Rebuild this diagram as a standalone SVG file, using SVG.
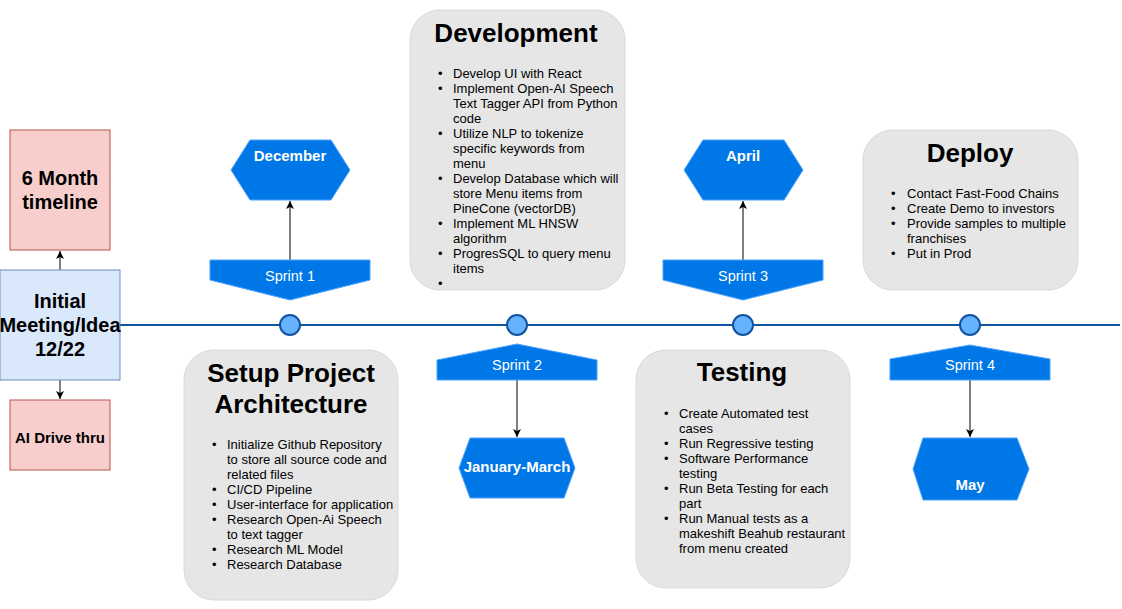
<svg xmlns="http://www.w3.org/2000/svg" width="1122" height="609" viewBox="0 0 1122 609">
<style>
text{font-family:"Liberation Sans",Arial,sans-serif}
.red{fill:#f8cecc;stroke:#b85450;stroke-width:1}
.blue{fill:#dae8fc;stroke:#6c8ebf;stroke-width:1}
.big{font-size:20px;font-weight:bold;fill:#000;text-anchor:middle}
.sprint{fill:#0077e6;stroke:#4da3ff;stroke-width:1}
.st{font-size:14.5px;fill:#fff;text-anchor:middle}
.month{font-size:15px;font-weight:bold;fill:#fff;text-anchor:middle}
.card{fill:#e6e6e6;stroke:#d9d9d9;stroke-width:1}
.title{font-size:26px;font-weight:bold;fill:#000;text-anchor:middle}
.li{font-size:13px;fill:#000}
.dot{fill:#66b2ff;stroke:#10539e;stroke-width:2}
.edge{stroke:#000;stroke-width:1;fill:none}
</style>
<defs>
<marker id="arr" markerWidth="10" markerHeight="10" refX="8" refY="4" orient="auto" markerUnits="userSpaceOnUse">
<path d="M0,0 L8,4 L0,8 L2,4 z" fill="#000"/>
</marker>
</defs>

<g id="connectors">
<line x1="120" y1="325" x2="1120" y2="325" stroke="#10539e" stroke-width="2"/>
<line class="edge" x1="60" y1="270" x2="60" y2="251" marker-end="url(#arr)"/>
<line class="edge" x1="60" y1="380" x2="60" y2="399" marker-end="url(#arr)"/>
<line class="edge" x1="290" y1="260" x2="290" y2="201" marker-end="url(#arr)"/>
<line class="edge" x1="517" y1="380" x2="517" y2="437" marker-end="url(#arr)"/>
<line class="edge" x1="743" y1="260" x2="743" y2="201" marker-end="url(#arr)"/>
<line class="edge" x1="970" y1="380" x2="970" y2="437" marker-end="url(#arr)"/>
</g>

<g id="timeline-6month">
<rect class="red" x="10" y="130" width="100" height="120"/>
<text class="big" x="60" y="185">6 Month</text>
<text class="big" x="60" y="209">timeline</text>
</g>
<g id="initial-meeting">
<rect class="blue" x="0" y="270" width="120" height="110"/>
<text class="big" x="60" y="308">Initial</text>
<text class="big" x="60" y="332">Meeting/Idea</text>
<text class="big" x="60" y="356">12/22</text>
</g>
<g id="ai-drive-thru">
<rect class="red" x="10" y="400" width="100" height="70"/>
<text x="60" y="443" style="font-size:15px;font-weight:bold;text-anchor:middle">AI Drive thru</text>
</g>

<g id="dots">
<circle class="dot" cx="290" cy="325" r="10"/>
<circle class="dot" cx="517" cy="325" r="10"/>
<circle class="dot" cx="743" cy="325" r="10"/>
<circle class="dot" cx="970" cy="325" r="10"/>
</g>

<g id="sprint1">
<path class="sprint" d="M210,260 H370 V280 L290,300 L210,280 Z"/>
<text class="st" x="290" y="281">Sprint 1</text>
</g>
<g id="december">
<path class="sprint" d="M250,140 H331 L350,170 L331,200 H250 L231,170 Z"/>
<text class="month" x="290" y="161">December</text>
</g>

<g id="sprint2">
<path class="sprint" d="M437,360 L517,344 L597,360 V380 H437 Z"/>
<text class="st" x="517" y="370">Sprint 2</text>
</g>
<g id="january-march">
<path class="sprint" d="M470,438 H564 L575,468 L564,498 H470 L459,468 Z"/>
<text class="month" x="517" y="472">January-March</text>
</g>

<g id="sprint3">
<path class="sprint" d="M663,260 H823 V280 L743,300 L663,280 Z"/>
<text class="st" x="743" y="281">Sprint 3</text>
</g>
<g id="april">
<path class="sprint" d="M703,140 H784 L803,170 L784,200 H703 L684,170 Z"/>
<text class="month" x="743" y="161">April</text>
</g>

<g id="sprint4">
<path class="sprint" d="M890,359 L970,345 L1050,359 V380 H890 Z"/>
<text class="st" x="970" y="370">Sprint 4</text>
</g>
<g id="may">
<path class="sprint" d="M923,438 H1017 L1029,469 L1017,500 H923 L913,469 Z"/>
<text class="month" x="970" y="490">May</text>
</g>

<g id="development">
<rect class="card" x="410" y="10" width="215" height="280" rx="30" ry="30"/>
<text class="title" x="516" y="42">Development</text>
<g class="li">
<text x="438" y="78">•</text><text x="453" y="78">Develop UI with React</text>
<text x="438" y="93">•</text><text x="453" y="93">Implement Open-AI Speech</text>
<text x="453" y="108">Text Tagger API from Python</text>
<text x="453" y="123">code</text>
<text x="438" y="138">•</text><text x="453" y="138">Utilize NLP to tokenize</text>
<text x="453" y="153">specific keywords from</text>
<text x="453" y="168">menu</text>
<text x="438" y="183">•</text><text x="453" y="183">Develop Database which will</text>
<text x="453" y="198">store Menu items from</text>
<text x="453" y="213">PineCone (vectorDB)</text>
<text x="438" y="228">•</text><text x="453" y="228">Implement ML HNSW</text>
<text x="453" y="243">algorithm</text>
<text x="438" y="258">•</text><text x="453" y="258">ProgresSQL to query menu</text>
<text x="453" y="273">items</text>
<text x="438" y="288">•</text>
</g>
</g>

<g id="setup-project">
<rect class="card" x="184" y="350" width="214" height="250" rx="30" ry="30"/>
<text class="title" x="291" y="382">Setup Project</text>
<text class="title" x="291" y="413">Architecture</text>
<g class="li">
<text x="212" y="449">•</text><text x="227" y="449">Initialize Github Repository</text>
<text x="227" y="464">to store all source code and</text>
<text x="227" y="479">related files</text>
<text x="212" y="494">•</text><text x="227" y="494">CI/CD Pipeline</text>
<text x="212" y="509">•</text><text x="227" y="509">User-interface for application</text>
<text x="212" y="524">•</text><text x="227" y="524">Research Open-Ai Speech</text>
<text x="227" y="539">to text tagger</text>
<text x="212" y="554">•</text><text x="227" y="554">Research ML Model</text>
<text x="212" y="569">•</text><text x="227" y="569">Research Database</text>
</g>
</g>

<g id="testing">
<rect class="card" x="636" y="350" width="214" height="238" rx="30" ry="30"/>
<text class="title" x="742" y="381">Testing</text>
<g class="li">
<text x="664" y="418">•</text><text x="679" y="418">Create Automated test</text>
<text x="679" y="433">cases</text>
<text x="664" y="448">•</text><text x="679" y="448">Run Regressive testing</text>
<text x="664" y="463">•</text><text x="679" y="463">Software Performance</text>
<text x="679" y="478">testing</text>
<text x="664" y="493">•</text><text x="679" y="493">Run Beta Testing for each</text>
<text x="679" y="508">part</text>
<text x="664" y="523">•</text><text x="679" y="523">Run Manual tests as a</text>
<text x="679" y="538">makeshift Beahub restaurant</text>
<text x="679" y="553">from menu created</text>
</g>
</g>

<g id="deploy">
<rect class="card" x="863" y="130" width="215" height="160" rx="30" ry="30"/>
<text class="title" x="970" y="162">Deploy</text>
<g class="li">
<text x="891" y="198">•</text><text x="907" y="198">Contact Fast-Food Chains</text>
<text x="891" y="213">•</text><text x="907" y="213">Create Demo to investors</text>
<text x="891" y="228">•</text><text x="907" y="228">Provide samples to multiple</text>
<text x="907" y="243">franchises</text>
<text x="891" y="258">•</text><text x="907" y="258">Put in Prod</text>
</g>
</g>
</svg>
